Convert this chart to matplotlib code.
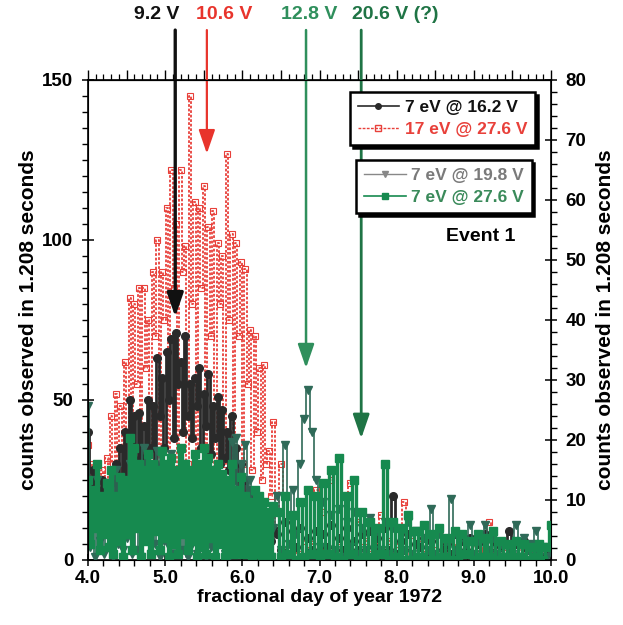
import matplotlib
matplotlib.use('Agg')
import matplotlib.pyplot as plt
from matplotlib.lines import Line2D
from matplotlib.ticker import MultipleLocator, FormatStrFormatter

plt.rcParams['font.family'] = ['Liberation Sans', 'DejaVu Sans']
plt.rcParams['font.weight'] = 'bold'

# ---------------- data ----------------
TIME_EARLY = [4.00, 4.03, 4.06, 4.09, 4.12, 4.15, 4.18, 4.21, 4.24, 4.27,
              4.30, 4.33, 4.36, 4.39, 4.42, 4.45, 4.48, 4.51, 4.54, 4.57,
              4.60, 4.63, 4.66, 4.69, 4.72, 4.75, 4.78, 4.81, 4.84, 4.87,
              4.90, 4.93, 4.96, 4.99, 5.02, 5.05, 5.08, 5.11, 5.14, 5.17,
              5.20, 5.23, 5.26, 5.29, 5.32, 5.35, 5.38, 5.41, 5.44, 5.47,
              5.50, 5.53, 5.56, 5.59, 5.62, 5.65, 5.68, 5.71, 5.74, 5.77,
              5.80, 5.83, 5.86, 5.89, 5.92, 5.95, 5.98, 6.01, 6.04, 6.07,
              6.10, 6.13, 6.16, 6.19, 6.22, 6.25, 6.28, 6.31, 6.34, 6.37,
              6.40]
TIME_LATE = [6.45, 6.50, 6.55, 6.60, 6.65, 6.70, 6.75, 6.80, 6.85, 6.90,
             6.95, 7.00, 7.05, 7.10, 7.15, 7.20, 7.25, 7.30, 7.35, 7.40,
             7.45, 7.50, 7.55, 7.60, 7.65, 7.70, 7.75, 7.80, 7.85, 7.90,
             7.95, 8.00, 8.05, 8.10, 8.15, 8.20, 8.25, 8.30, 8.35, 8.40,
             8.45, 8.50, 8.55, 8.60, 8.65, 8.70, 8.75, 8.80, 8.85, 8.90,
             8.95, 9.00, 9.05, 9.10, 9.15, 9.20, 9.25, 9.30, 9.35, 9.40,
             9.45, 9.50, 9.55, 9.60, 9.65, 9.70, 9.75, 9.80, 9.85, 9.90,
             9.95, 10.00]

# 17 eV @ 27.6 V (red, open squares)
RED_EARLY = [36, 22, 30, 18, 25, 15, 28, 20, 32, 24,
             45, 30, 52, 28, 48, 35, 62, 40, 82, 30,
             80, 55, 85, 32, 85, 60, 75, 30, 90, 70,
             100, 28, 90, 75, 110, 30, 122, 85, 105, 28,
             122, 90, 98, 30, 145, 80, 112, 28, 110, 85,
             117, 32, 104, 70, 109, 28, 99, 80, 95, 30,
             127, 75, 102, 28, 99, 70, 93, 30, 91, 55,
             72, 28, 70, 40, 60, 25, 61, 30, 34, 20,
             43]
RED_LATE = [10, 30, 5, 14, 3, 8, 2, 6, 3, 5,
            22, 4, 15, 3, 25, 2, 6, 20, 3, 24,
            2, 12, 4, 6, 2, 5, 1, 14, 3, 6,
            2, 5, 3, 18, 2, 6, 1, 5, 2, 8,
            3, 5, 1, 4, 2, 6, 1, 4, 2, 5,
            1, 4, 2, 6, 3, 12, 2, 5, 1, 4,
            2, 5, 1, 3, 2, 4, 1, 3, 2, 4,
            1, 2]

# 7 eV @ 16.2 V (black, filled circles)
BLACK_EARLY = [40, 20, 28, 15, 22, 12, 25, 14, 20, 10,
               24, 15, 30, 18, 35, 22, 40, 25, 50, 30,
               45, 28, 46, 32, 42, 30, 50, 35, 48, 30,
               63, 45, 57, 35, 65, 50, 69, 38, 71, 55,
               62, 40, 70, 45, 55, 38, 57, 48, 60, 35,
               52, 42, 58, 33, 48, 38, 51, 30, 47, 32,
               40, 28, 45, 25, 35, 20, 30, 18, 25, 14,
               22, 12, 18, 10, 15, 8, 14, 7, 12, 6,
               10]
BLACK_LATE = [8, 3, 12, 2, 9, 4, 10, 1, 7, 3,
              9, 2, 8, 4, 11, 1, 7, 3, 10, 2,
              6, 3, 8, 1, 9, 4, 7, 2, 10, 3,
              20, 2, 6, 3, 8, 1, 5, 4, 7, 2,
              6, 1, 9, 3, 5, 2, 8, 1, 6, 3,
              7, 2, 5, 1, 8, 3, 6, 2, 4, 1,
              9, 2, 5, 1, 6, 3, 4, 2, 5, 1,
              3, 2]

# 7 eV @ 27.6 V (green, filled squares)
GREEN_EARLY = [25, 5, 22, 10, 30, 3, 20, 8, 24, 4,
               28, 2, 20, 6, 26, 1, 25, 8, 38, 3,
               35, 10, 30, 1, 28, 6, 33, 2, 30, 9,
               28, 3, 34, 7, 30, 1, 32, 5, 28, 2,
               35, 8, 30, 3, 28, 6, 33, 1, 30, 4,
               35, 2, 32, 7, 28, 1, 30, 5, 27, 1,
               25, 3, 30, 2, 22, 4, 26, 2, 20, 3,
               18, 1, 22, 2, 20, 1, 18, 2, 15, 1,
               17]
GREEN_LATE = [15, 1, 20, 2, 14, 0, 18, 1, 22, 2,
              20, 0, 24, 2, 28, 1, 32, 0, 20, 2,
              25, 0, 15, 1, 12, 0, 10, 2, 30, 0,
              12, 1, 10, 0, 14, 0, 9, 1, 11, 0,
              8, 0, 10, 1, 7, 0, 9, 0, 8, 2,
              6, 0, 8, 1, 7, 1, 9, 0, 6, 1,
              5, 0, 6, 1, 5, 0, 4, 1, 5, 0,
              4, 11]

# 7 eV @ 19.8 V (grey-green, down triangles)
TRI_EARLY = [48, 4, 20, 1, 25, 6, 18, 2, 22, 9,
             15, 1, 28, 5, 20, 3, 18, 7, 30, 2,
             34, 3, 25, 1, 35, 8, 22, 2, 28, 5,
             34, 1, 20, 6, 26, 4, 33, 2, 24, 7,
             22, 3, 30, 1, 20, 5, 25, 2, 22, 9,
             28, 1, 20, 4, 25, 3, 18, 6, 24, 2,
             20, 1, 37, 5, 38, 3, 30, 2, 36, 7,
             25, 1, 20, 4, 15, 2, 12, 3, 14, 1,
             10]
TRI_LATE = [20, 3, 36, 5, 22, 8, 30, 44, 53, 40,
            25, 4, 18, 2, 14, 3, 16, 1, 12, 4,
            15, 2, 10, 3, 13, 1, 9, 3, 12, 2,
            10, 1, 8, 3, 12, 2, 9, 1, 7, 3,
            16, 2, 8, 1, 6, 19, 3, 7, 2, 5,
            11, 2, 6, 1, 11, 3, 7, 2, 5, 1,
            4, 2, 11, 1, 7, 3, 5, 9, 2, 4,
            1, 3]

# arrows: (x, tip y, colour, line width, label, label x, alignment)
ARROW_X = [5.13, 5.54, 6.825, 7.54]
ARROW_TIP = [76, 127, 60, 38]
ARROW_LABELS = ['9.2 V', '10.6 V', '12.8 V', '20.6 V (?)']
ARROW_COLORS = ['#111111', '#e8342c', '#2f8f5c', '#1f7445']
ARROW_LW = [2.4, 1.6, 1.8, 2.0]
LABEL_X = [4.89, 5.76, 6.87, 7.42]
LABEL_HA = ['center', 'center', 'center', 'left']

LEGEND1 = ['7 eV @ 16.2 V', '17 eV @ 27.6 V']
LEGEND2 = ['7 eV @ 19.8 V', '7 eV @ 27.6 V']

RED_C = '#e8403a'
BLACK_C = '#2a2a2a'
GREEN_C = '#168a4f'
TRI_C = '#2f6a58'

# ---------------- figure ----------------
fig = plt.figure(figsize=(6.23, 6.25), dpi=100)
ax = fig.add_axes([0.1413, 0.104, 0.7432, 0.768])

t = TIME_EARLY + TIME_LATE
red = RED_EARLY + RED_LATE
black = BLACK_EARLY + BLACK_LATE
green = GREEN_EARLY + GREEN_LATE
tri = TRI_EARLY + TRI_LATE

ax.plot(t, red, color=RED_C, ls=(0, (1.5, 1)), lw=1.3, drawstyle='steps-mid',
        zorder=2)
ax.plot(t, red, ls='none', marker='s', ms=4.5, mfc='none', mec=RED_C,
        mew=0.8, zorder=2)
ax.plot(t, black, color=BLACK_C, lw=2.0, drawstyle='steps-mid', zorder=3)
ax.plot(t, black, ls='none', color=BLACK_C, marker='o', ms=5.5, zorder=3)
ax.plot(t, tri, color=TRI_C, lw=1.2, drawstyle='steps-mid', zorder=4)
ax.plot(t, tri, ls='none', color=TRI_C, marker='v', ms=6, zorder=4)
ax.plot(t, green, color=GREEN_C, lw=2.4, drawstyle='steps-mid', zorder=5)
ax.plot(t, green, ls='none', color=GREEN_C, marker='s', ms=5.5, zorder=5)

ax.set_xlim(4, 10)
ax.set_ylim(0, 150)

for sp in ax.spines.values():
    sp.set_linewidth(1.2)

ax.xaxis.set_major_locator(MultipleLocator(1))
ax.xaxis.set_minor_locator(MultipleLocator(0.2))
ax.xaxis.set_major_formatter(FormatStrFormatter('%.1f'))
ax.yaxis.set_major_locator(MultipleLocator(50))
ax.yaxis.set_minor_locator(MultipleLocator(5))
ax.tick_params(axis='both', which='major', direction='inout', length=9,
               width=1.1, labelsize=13.5)
ax.tick_params(axis='both', which='minor', direction='out', length=4, width=1.0)
ax.tick_params(axis='x', pad=3)
ax.tick_params(axis='y', pad=6)

top = ax.secondary_xaxis('top')
top.xaxis.set_major_locator(MultipleLocator(0.5))
top.xaxis.set_minor_locator(MultipleLocator(0.1))
top.tick_params(which='major', direction='out', length=7, width=1.0, labeltop=False)
top.tick_params(which='minor', direction='out', length=4, width=0.9)
top.set_xticklabels([])

ax.set_xlabel('fractional day of year 1972', fontsize=14, fontweight='bold', labelpad=1)
ax.set_ylabel('counts observed in 1.208 seconds', fontsize=15, fontweight='bold', labelpad=3)

ax2 = ax.twinx()
ax2.set_ylim(0, 80)
ax2.yaxis.set_major_locator(MultipleLocator(10))
ax2.yaxis.set_minor_locator(MultipleLocator(2))
ax2.tick_params(axis='y', which='major', direction='inout', length=9, width=1.1,
                labelsize=13.5, pad=6)
ax2.tick_params(axis='y', which='minor', direction='out', length=4, width=1.0)
ax2.set_ylabel('counts observed in 1.208 seconds', fontsize=15, fontweight='bold', labelpad=7)

# arrows and their labels
for x, tip, lab, c, lw, lx, ha in zip(ARROW_X, ARROW_TIP, ARROW_LABELS, ARROW_COLORS,
                                      ARROW_LW, LABEL_X, LABEL_HA):
    ax.annotate('', xy=(x, tip), xytext=(x, 165.6), xycoords='data',
                arrowprops=dict(arrowstyle='-|>,head_length=1.45,head_width=0.5',
                                color=c, lw=lw, shrinkA=0, shrinkB=0,
                                mutation_scale=10),
                annotation_clip=False, zorder=7)
    ax.text(lx, 170.5, lab, color=c, ha=ha, va='center', fontsize=14,
            fontweight='bold', clip_on=False)

# legends
h1 = Line2D([], [], color=BLACK_C, lw=1.2, marker='o', ms=4)
h2 = Line2D([], [], color=RED_C, lw=1.0, ls=(0, (2, 1)), marker='s', ms=5,
            mfc='none', mec=RED_C)
h3 = Line2D([], [], color='#888888', lw=1.0, marker='v', ms=4, mfc='#888888')
h4 = Line2D([], [], color=GREEN_C, lw=1.2, marker='s', ms=4.5)

common = dict(loc='upper right', frameon=True, fancybox=False, edgecolor='black',
              framealpha=1, shadow={'color': 'black', 'alpha': 1},
              prop={'weight': 'bold', 'size': 12.5}, handlelength=2.4,
              borderaxespad=0, labelspacing=0.4, numpoints=1,
              handletextpad=0.3, borderpad=0.45)
leg1 = ax2.legend([h1, h2], LEGEND1, bbox_to_anchor=(0.965, 0.975),
                  labelcolor=['#111111', RED_C], **common)
leg1.get_frame().set_linewidth(1.8)
ax2.add_artist(leg1)
leg2 = ax2.legend([h3, h4], LEGEND2, bbox_to_anchor=(0.958, 0.833),
                  labelcolor=['#7a7a7a', '#3a8a5a'], **common)
leg2.get_frame().set_linewidth(1.8)

ax2.text(0.847, 0.673, 'Event 1', transform=ax.transAxes, ha='center', va='center',
         fontsize=14, fontweight='bold')

fig.savefig('out.png', dpi=100)
